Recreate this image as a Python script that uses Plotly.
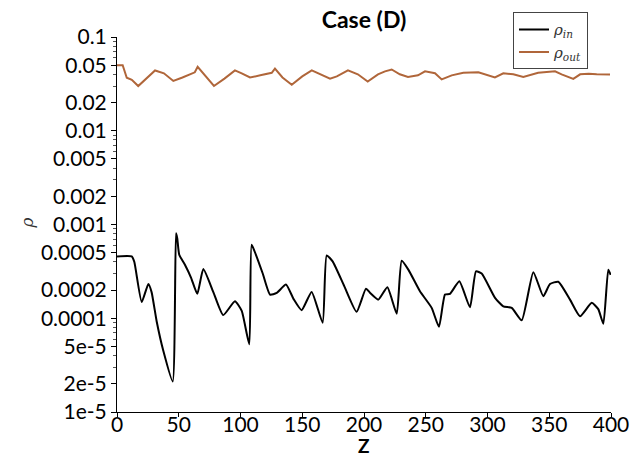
import plotly.graph_objects as go

# ---- data ----
z_in = [0, 11.9, 14, 20, 25.4, 28, 32.1, 37.5, 45.1, 47.8, 48.8, 50.4, 55, 60, 65, 69.9,
        78, 86, 95.5, 101, 107.1, 109, 112.5, 118, 123.9, 129.3, 136.8, 143, 149.5, 157.6,
        166.5, 169.8, 174.6, 184, 194, 201.6, 205, 211.6, 218.9, 226.5, 230.5, 235.9,
        245.3, 254.8, 260.7, 265.6, 269.6, 277.2, 285.8, 290.7, 295.3, 306.1, 312.8,
        319.6, 327.7, 337.1, 345.2, 350.6, 357.3, 366.8, 374.9, 384.4, 389.7, 393.8,
        397.8, 399.7]
rho_in = [4.56e-4, 4.56e-4, 4.0e-4, 1.49e-4, 2.32e-4, 1.9e-4, 9.3e-5, 4.5e-5, 2.12e-5,
          8.05e-4, 7.1e-4, 4.75e-4, 3.72e-4, 2.7e-4, 1.82e-4, 3.35e-4, 1.9e-4, 1.08e-4,
          1.52e-4, 1.2e-4, 5.28e-5, 6.07e-4, 4.75e-4, 3.0e-4, 1.79e-4, 1.86e-4, 2.29e-4,
          1.6e-4, 1.22e-4, 1.91e-4, 8.97e-5, 4.68e-4, 4.04e-4, 2.2e-4, 1.17e-4, 2.07e-4,
          1.86e-4, 1.58e-4, 2.14e-4, 1.12e-4, 4.1e-4, 3.3e-4, 1.94e-4, 1.29e-4, 8.1e-5,
          1.79e-4, 1.82e-4, 2.48e-4, 1.31e-4, 3.16e-4, 3.0e-4, 1.65e-4, 1.34e-4, 1.29e-4,
          9.5e-5, 3.1e-4, 1.72e-4, 2.32e-4, 2.45e-4, 1.58e-4, 1.05e-4, 1.46e-4, 1.25e-4,
          8.75e-5, 3.3e-4, 2.9e-4]

z_out = [0, 4.6, 7.9, 12, 17.2, 24, 30.8, 38, 45.6, 53, 60.5, 63, 65.3, 72, 78.5, 87,
         95.5, 101, 107.7, 116, 125.3, 127.9, 134, 141.5, 150, 157.7, 165, 172.5, 178,
         183, 187, 195, 203, 211.3, 217, 222.4, 229, 235.6, 243.7, 249.4, 257.5, 262.9,
         271, 280.4, 292.6, 306, 312.8, 320.9, 329, 341, 348, 354.7, 360, 369.5, 375,
         382, 388.4, 399.2]
rho_out = [0.05, 0.05, 0.0368, 0.035, 0.030, 0.036, 0.044, 0.041, 0.034, 0.037, 0.041,
           0.042, 0.048, 0.038, 0.030, 0.036, 0.044, 0.041, 0.037, 0.039, 0.0415, 0.046,
           0.037, 0.031, 0.038, 0.044, 0.040, 0.036, 0.038, 0.041, 0.044, 0.040, 0.0335,
           0.040, 0.043, 0.045, 0.040, 0.0375, 0.039, 0.043, 0.041, 0.0353, 0.039,
           0.0415, 0.042, 0.037, 0.041, 0.040, 0.0375, 0.0415, 0.042, 0.043, 0.040,
           0.0357, 0.040, 0.0405, 0.040, 0.0397]

y_tickvals = [0.1, 0.05, 0.02, 0.01, 0.005, 0.002, 0.001, 0.0005, 0.0002, 0.0001,
              5e-5, 2e-5, 1e-5]
y_ticktext = ["0.1", "0.05", "0.02", "0.01", "0.005", "0.002", "0.001", "0.0005",
              "0.0002", "0.0001", "5e-5", "2e-5", "1e-5"]
y_minor = [m * 10.0 ** e for e in range(-5, -1) for m in (3, 4, 6, 7, 8, 9)]
x_tickvals = [0, 50, 100, 150, 200, 250, 300, 350, 400]

FONT = "Lato"

fig = go.Figure()
fig.add_trace(go.Scatter(x=z_in, y=rho_in, mode="lines",
                         name="<i>ρ</i><sub><i>in</i></sub>",
                         line=dict(color="black", width=2, shape="spline", smoothing=0.5)))
fig.add_trace(go.Scatter(x=z_out, y=rho_out, mode="lines",
                         name="<i>ρ</i><sub><i>out</i></sub>",
                         line=dict(color="#b0663a", width=2)))

fig.update_layout(
    width=641, height=457,
    margin=dict(l=117, r=30, t=34, b=45),
    paper_bgcolor="white", plot_bgcolor="white",
    font=dict(family=FONT, size=20, color="black"),
    title=dict(text="<b>Case (D)</b>", x=(117 + 611) / 2 / 641, xanchor="center",
               y=1 - 20 / 457, yanchor="middle", font=dict(size=23, family=FONT)),
    showlegend=True,
    legend=dict(x=(588 - 117) / 494, y=(412 - 9) / 378, xanchor="right", yanchor="top",
                bordercolor="#444", borderwidth=1, bgcolor="white",
                font=dict(family="DejaVu Serif", size=15, color="#333"),
                itemwidth=30, tracegroupgap=0),
    xaxis=dict(range=[0, 400], tickvals=x_tickvals, ticks="outside", ticklen=4,
               tickcolor="black", showline=True, linecolor="black", linewidth=1,
               showgrid=False, zeroline=False, tickfont=dict(size=21),
               ticklabelstandoff=-10),
    yaxis=dict(type="log", range=[-5, -1], tickvals=y_tickvals, ticktext=y_ticktext,
               ticks="outside", ticklen=5, tickcolor="black", showline=True,
               linecolor="black", linewidth=1, showgrid=False, zeroline=False,
               tickfont=dict(size=21),
               minor=dict(tickvals=y_minor, ticks="outside", ticklen=3,
                          tickcolor="#555", showgrid=False)),
)

fig.add_annotation(text="<b>Z</b>", xref="paper", yref="paper",
                   x=0.5, y=-(446 - 412) / 378, xanchor="center", yanchor="middle",
                   showarrow=False, font=dict(size=19, family=FONT))
fig.add_annotation(text="<i>ρ</i>", xref="paper", yref="paper",
                   x=(27 - 117) / 494, y=(412 - 222) / 378, xanchor="center",
                   yanchor="middle", textangle=-90, showarrow=False,
                   font=dict(size=17, family="DejaVu Serif", color="#333"))

fig.write_html("out.html")
